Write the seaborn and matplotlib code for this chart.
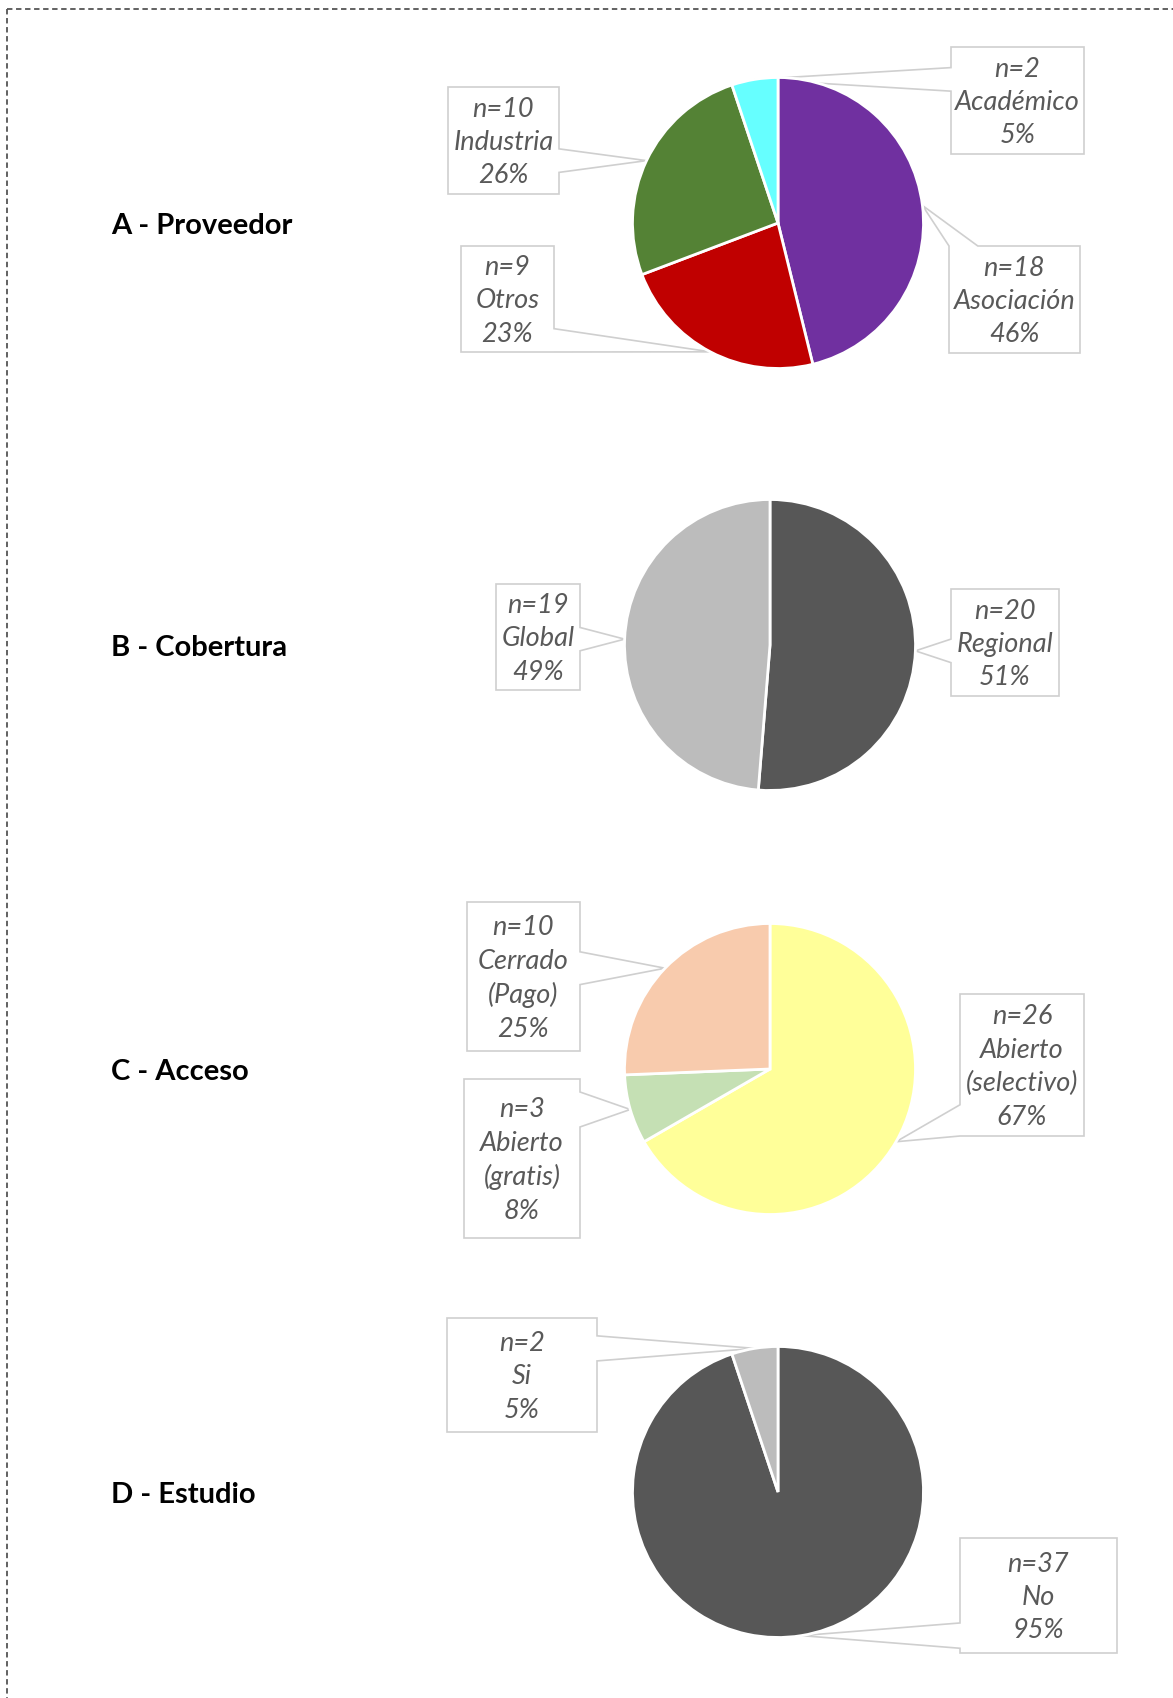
import numpy as np
import matplotlib
matplotlib.use("Agg")
import matplotlib.pyplot as plt
from matplotlib.patches import Polygon
import seaborn as sns

# A - Proveedor
prov_cats = ["Asociación", "Otros", "Industria", "Académico"]
prov_n = [18, 9, 10, 2]
prov_pct = ["46%", "23%", "26%", "5%"]

# B - Cobertura
cob_cats = ["Regional", "Global"]
cob_n = [20, 19]
cob_pct = ["51%", "49%"]

# C - Acceso
acc_cats = ["Abierto\n(selectivo)", "Abierto\n(gratis)", "Cerrado\n(Pago)"]
acc_n = [26, 3, 10]
acc_pct = ["67%", "8%", "25%"]

# D - Estudio
est_cats = ["No", "Si"]
est_n = [37, 2]
est_pct = ["95%", "5%"]

titles = ["A - Proveedor", "B - Cobertura", "C - Acceso", "D - Estudio"]

# colores
prov_colors = sns.color_palette(["#7030A0", "#C00000", "#548235", "#66FFFF"])
gris_colors = sns.color_palette(["#575757", "#BCBCBC"])
acc_colors = sns.color_palette(["#FFFF99", "#C5E0B4", "#F8CBAD"])

# layout en pixeles (origen arriba-izquierda)
W, H = 1173, 1699
R = 145.5
centros = [(778, 224), (770, 646), (770, 1070), (778, 1493)]
cajas = [
    [(949, 247, 1080, 354), (461, 247, 554, 353), (448, 88, 559, 195), (951, 48, 1084, 155)],
    [(951, 590, 1059, 697), (496, 585, 580, 691)],
    [(960, 995, 1084, 1137), (464, 1080, 580, 1239), (467, 903, 580, 1052)],
    [(960, 1539, 1117, 1654), (447, 1319, 597, 1433)],
]

paneles = [
    (prov_cats, prov_n, prov_pct, prov_colors),
    (cob_cats, cob_n, cob_pct, gris_colors),
    (acc_cats, acc_n, acc_pct, acc_colors),
    (est_cats, est_n, est_pct, gris_colors),
]

sns.set_theme(style="white")
plt.rcParams['font.family'] = ['Lato', 'DejaVu Sans']

fig = plt.figure(figsize=(W / 100, H / 100), dpi=100)
ax = fig.add_axes([0, 0, 1, 1])


def callout(box, apex):
    # caja con flecha tipo "llamada" de Excel
    x0, y0, x1, y1 = box
    axp, ayp = apex
    d = {}
    if axp < x0: d["left"] = x0 - axp
    if axp > x1: d["right"] = axp - x1
    if ayp < y0: d["top"] = y0 - ayp
    if ayp > y1: d["bottom"] = ayp - y1
    lado = max(d, key=d.get)
    if lado in ("left", "right"):
        w = 0.11 * (y1 - y0)
        c = np.clip(ayp, y0 + w, y1 - w)
    else:
        w = 0.11 * (x1 - x0)
        c = np.clip(axp, x0 + w, x1 - w)
    b1, b2 = c - w, c + w
    pts = [(x0, y0)]
    if lado == "top":
        pts += [(b1, y0), apex, (b2, y0)]
    pts += [(x1, y0)]
    if lado == "right":
        pts += [(x1, b1), apex, (x1, b2)]
    pts += [(x1, y1)]
    if lado == "bottom":
        pts += [(b2, y1), apex, (b1, y1)]
    pts += [(x0, y1)]
    if lado == "left":
        pts += [(x0, b2), apex, (x0, b1)]
    return [(x, H - y) for x, y in pts]


for i, (cats, n, pct, cols) in enumerate(paneles):
    cx, cy = centros[i]
    wedges, _ = ax.pie(n, colors=cols, startangle=90, counterclock=False,
                       center=(cx, H - cy), radius=R,
                       wedgeprops=dict(edgecolor="white", linewidth=2))
    ax.text(111, H - cy - 2, titles[i], ha="left", va="center",
            fontsize=21, fontweight="bold", color="black")
    for j, w in enumerate(wedges):
        mid = np.deg2rad((w.theta1 + w.theta2) / 2)
        apex = (cx + R * np.cos(mid), cy - R * np.sin(mid))
        box = cajas[i][j]
        ax.add_patch(Polygon(callout(box, apex), closed=True, facecolor="white",
                             edgecolor="#CFCFCF", linewidth=1.2, zorder=0.5))
        ax.text((box[0] + box[2]) / 2, H - (box[1] + box[3]) / 2 - 1,
                f"n={n[j]}\n{cats[j]}\n{pct[j]}", ha="center", va="center",
                fontsize=19.5, fontstyle="italic", color="#595959",
                linespacing=1.42, zorder=3)

# borde punteado
ax.plot([7, W + 5], [H - 10, H - 10], color="#555555", lw=1.3, ls=(0, (3, 2)), clip_on=False)
ax.plot([7, 7], [H - 10, -5], color="#555555", lw=1.3, ls=(0, (3, 2)), clip_on=False)

ax.set_xlim(0, W)
ax.set_ylim(0, H)
ax.set_aspect("equal")
ax.axis("off")

fig.savefig("out.png", dpi=100, facecolor="white")
